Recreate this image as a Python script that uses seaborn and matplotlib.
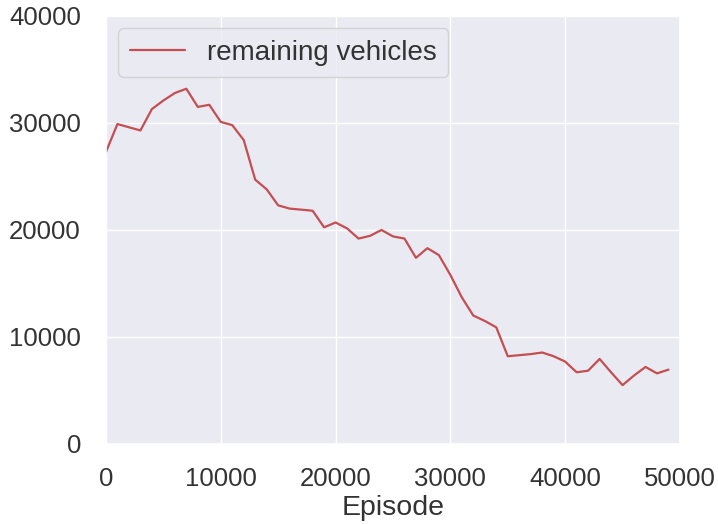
import matplotlib
matplotlib.use("Agg")
import matplotlib.pyplot as plt
import seaborn as sns
import pandas as pd

episodes = list(range(0, 50000, 1000))
remaining_vehicles = [
    27300, 29900, 29600, 29300, 31300, 32100, 32800, 33200, 31500, 31700,
    30100, 29800, 28400, 24700, 23800, 22300, 22000, 21900, 21800, 20250,
    20700, 20150, 19200, 19450, 20000, 19400, 19200, 17400, 18300, 17650,
    15800, 13700, 12000, 11500, 10900, 8200, 8300, 8400, 8550, 8200,
    7700, 6700, 6850, 7950, 6700, 5500, 6400, 7200, 6600, 6950,
]
x_ticks = [0, 10000, 20000, 30000, 40000, 50000]
y_ticks = [0, 10000, 20000, 30000, 40000]

sns.set_theme(style="darkgrid", color_codes=True)
plt.rcParams['font.family'] = ['Liberation Sans', 'DejaVu Sans']

df = pd.DataFrame({"Episode": episodes, "remaining vehicles": remaining_vehicles})

fig = plt.figure(figsize=(7.18, 5.24), dpi=100)
ax = fig.add_axes([0.1476, 0.1527, 0.7994, 0.8168])
sns.lineplot(data=df, x="Episode", y="remaining vehicles", color="r",
             linewidth=1.6, label="remaining vehicles", ax=ax)
ax.set_xlim(0, 50000)
ax.set_ylim(0, 40000)
ax.set_xticks(x_ticks)
ax.set_yticks(y_ticks)
ax.tick_params(axis="both", labelsize=18.5, colors="#333333")
ax.tick_params(axis="x", pad=10.5)
ax.tick_params(axis="y", pad=12)
ax.set_xlabel("Episode", fontsize=20.5, labelpad=3, color="#333333")
ax.set_ylabel("")
leg = ax.legend(loc="upper left", fontsize=20, frameon=True,
                borderaxespad=0.45, handlelength=2.0)
for t in leg.get_texts():
    t.set_color("#333333")
fig.savefig("out.png", dpi=100)
